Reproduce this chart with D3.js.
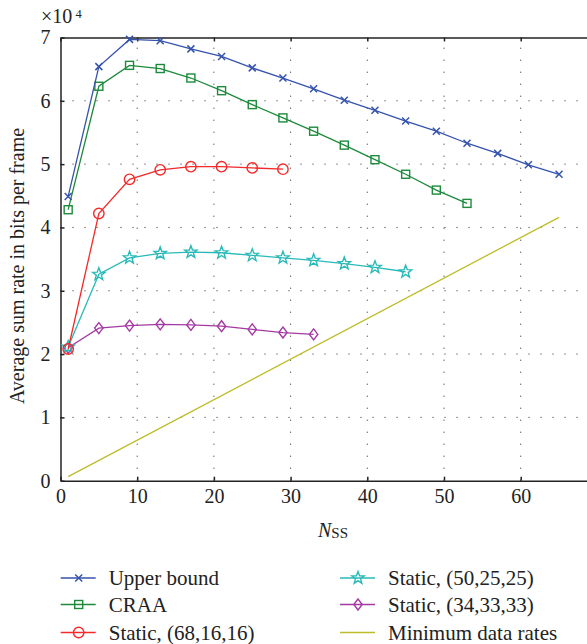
<!DOCTYPE html>
<html><head><meta charset="utf-8">
<script src="https://cdn.jsdelivr.net/npm/d3@7/dist/d3.min.js"></script>
<style>
html,body{margin:0;padding:0;background:#fff;}
svg, svg text{font-family:"Liberation Serif","Times New Roman",serif !important;}
</style></head>
<body><svg id="c" width="587" height="644"></svg>
<script>
// ---- data (values in units of 10^4 bits per frame) ----
const nss = [1,5,9,13,17,21,25,29,33,37,41,45,49,53,57,61,65];
const upperBound = [4.49,6.54,6.97,6.95,6.82,6.70,6.52,6.36,6.19,6.01,5.85,5.68,5.52,5.33,5.17,4.99,4.84];
const craa = [4.28,6.23,6.56,6.51,6.36,6.16,5.94,5.73,5.52,5.30,5.07,4.84,4.59,4.38];
const static681616 = [2.08,4.22,4.76,4.91,4.96,4.96,4.94,4.92];
const static502525 = [2.11,3.26,3.52,3.59,3.61,3.60,3.56,3.52,3.48,3.43,3.37,3.30];
const static343333 = [2.10,2.41,2.45,2.47,2.46,2.44,2.39,2.34,2.31];
const minRateN = [1,65];
const minRate = [0.064,4.16];
const xTicks = [0,10,20,30,40,50,60];
const yTicks = [0,1,2,3,4,5,6,7];
const seriesNames = ["Upper bound","CRAA","Static, (68,16,16)","Static, (50,25,25)","Static, (34,33,33)","Minimum data rates"];

const svg = d3.select("#c");
const x = d3.scaleLinear().domain([0,70]).range([60.5,597.4]);
const y = d3.scaleLinear().domain([0,7]).range([480.7,37.5]);

const series = [
  {name:seriesNames[0], vals:upperBound, xs:nss, color:"#3553ad", marker:"x"},
  {name:seriesNames[1], vals:craa, xs:nss, color:"#1d8a3c", marker:"square"},
  {name:seriesNames[2], vals:static681616, xs:nss, color:"#f22a2a", marker:"circle"},
  {name:seriesNames[3], vals:static502525, xs:nss, color:"#2ab9b9", marker:"star"},
  {name:seriesNames[4], vals:static343333, xs:nss, color:"#a33aa3", marker:"diamond"},
  {name:seriesNames[5], vals:minRate, xs:minRateN, color:"#bdbd2a", marker:null}
];

// grid
const g = svg.append("g");
xTicks.filter(t=>t>0).forEach(t=>{
  g.append("line").attr("x1",x(t)).attr("x2",x(t)).attr("y1",y(0)).attr("y2",y(7))
   .attr("stroke","#222").attr("stroke-width",1).attr("stroke-dasharray","1,11");
});
yTicks.filter(t=>t>0 && t<7).forEach(t=>{
  g.append("line").attr("x1",x(0)).attr("x2",x(70)).attr("y1",y(t)).attr("y2",y(t))
   .attr("stroke","#222").attr("stroke-width",1).attr("stroke-dasharray","1,11");
});

// axes
const FONT = "'Liberation Serif', 'Times New Roman', serif";
const xAxB = d3.axisBottom(x).tickValues(xTicks).tickFormat(d3.format("d")).tickSizeInner(-4).tickSizeOuter(0).tickPadding(8);
const xAxT = d3.axisTop(x).tickValues(xTicks).tickSizeInner(-4).tickSizeOuter(0).tickFormat("");
const yAxL = d3.axisLeft(y).tickValues(yTicks).tickFormat(d3.format("d")).tickSizeInner(-4).tickSizeOuter(0).tickPadding(10);
function style(sel){
  sel.attr("font-family",FONT).attr("font-size",20);
  sel.select(".domain").attr("stroke","#222").attr("stroke-width",1.5);
  sel.selectAll(".tick line").attr("stroke","#222").attr("stroke-width",1.5);
  sel.selectAll(".tick text").attr("font-family",FONT).attr("font-size",20).attr("fill","#222");
}
svg.append("g").attr("transform",`translate(0,${y(0)})`).call(xAxB).call(style);
svg.append("g").attr("transform",`translate(0,${y(7)})`).call(xAxT).call(style);
svg.append("g").attr("transform",`translate(${x(0)},0)`).call(yAxL).call(style);

// markers
function drawMarker(sel, type, color){
  if(type==="x"){
    sel.append("path").attr("d","M-3.5,-3.5L3.5,3.5M-3.5,3.5L3.5,-3.5").attr("stroke",color).attr("stroke-width",1.5).attr("fill","none");
  } else if(type==="square"){
    sel.append("rect").attr("x",-4).attr("y",-4).attr("width",8).attr("height",8).attr("stroke",color).attr("stroke-width",1.4).attr("fill","none");
  } else if(type==="circle"){
    sel.append("circle").attr("r",5.2).attr("stroke",color).attr("stroke-width",1.4).attr("fill","none");
  } else if(type==="star"){
    const R=6.5, r=2.7; let p=[];
    for(let i=0;i<10;i++){const a=-Math.PI/2+i*Math.PI/5; const rr=i%2?r:R; p.push([rr*Math.cos(a),rr*Math.sin(a)]);}
    sel.append("path").attr("d","M"+p.map(d=>d.join(",")).join("L")+"Z").attr("stroke",color).attr("stroke-width",1.4).attr("fill","none");
  } else if(type==="diamond"){
    sel.append("path").attr("d","M0,-5.5L4.2,0L0,5.5L-4.2,0Z").attr("stroke",color).attr("stroke-width",1.4).attr("fill","none");
  }
}

const line = d3.line().x(d=>x(d[0])).y(d=>y(d[1]));
series.slice().reverse().forEach(s=>{
  const pts = s.vals.map((v,i)=>[s.xs[i],v]);
  svg.append("path").datum(pts).attr("d",line).attr("fill","none").attr("stroke",s.color).attr("stroke-width",1.3);
  if(s.marker){
    pts.forEach(p=>{
      const m = svg.append("g").attr("transform",`translate(${x(p[0])},${y(p[1])})`);
      drawMarker(m, s.marker, s.color);
    });
  }
});

// labels
svg.append("text").attr("x",41).attr("y",23).attr("font-size",20).attr("fill","#222").text("×10");
svg.append("text").attr("x",75.5).attr("y",18).attr("font-size",12.5).attr("fill","#222").text("4");
svg.append("text").attr("transform","translate(24,266) rotate(-90)").attr("text-anchor","middle")
  .attr("font-size",20).attr("fill","#222").text("Average sum rate in bits per frame");
const xl = svg.append("text").attr("x",318).attr("y",537).attr("font-size",20).attr("fill","#222");
xl.append("tspan").attr("font-style","italic").text("N");
xl.append("tspan").attr("font-size",15).attr("dy",1).text("SS");

// legend
const legPos = [[60.7,578],[60.7,604.5],[60.7,632.5],[340,578],[340,604.5],[340,632.5]];
series.forEach((s,i)=>{
  const [lx,ly] = legPos[i];
  const lg = svg.append("g").attr("transform",`translate(${lx},${ly})`);
  lg.append("line").attr("x1",0).attr("x2",35).attr("y1",0).attr("y2",0).attr("stroke",s.color).attr("stroke-width",1.3);
  if(s.marker){ const m = lg.append("g").attr("transform","translate(18,0)"); drawMarker(m,s.marker,s.color); }
  lg.append("text").attr("x",48).attr("y",7).attr("font-size",21).attr("fill","#222").text(s.name);
});
</script></body></html>
